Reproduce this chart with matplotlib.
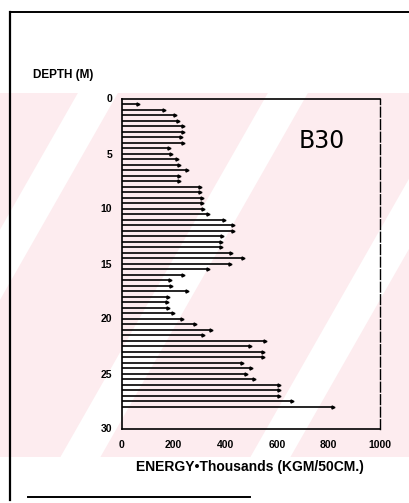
import matplotlib.pyplot as plt
from matplotlib.patches import Polygon
from matplotlib.lines import Line2D

# -------------------------------------------------
# Data: blow energy per 50 cm, borehole B30
# -------------------------------------------------
depth_m = [0.5, 1.0, 1.5, 2.0, 2.5, 3.0, 3.5, 4.0, 4.5, 5.0,
           5.5, 6.0, 6.5, 7.0, 7.5, 8.0, 8.5, 9.0, 9.5, 10.0,
           10.5, 11.0, 11.5, 12.0, 12.5, 13.0, 13.5, 14.0, 14.5, 15.0,
           15.5, 16.0, 16.5, 17.0, 17.5, 18.0, 18.5, 19.0, 19.5, 20.0,
           20.5, 21.0, 21.5, 22.0, 22.5, 23.0, 23.5, 24.0, 24.5, 25.0,
           25.5, 26.0, 26.5, 27.0, 27.5, 28.0]

energy_k = [62, 163, 205, 217, 236, 236, 229, 236, 182, 190,
            213, 221, 252, 221, 221, 302, 302, 310, 310, 314,
            333, 395, 430, 429, 386, 384, 382, 421, 468, 419,
            335, 238, 185, 188, 253, 180, 173, 180, 196, 231,
            283, 345, 313, 555, 496, 545, 545, 465, 499, 480,
            512, 610, 610, 608, 660, 818]

y_ticks = [0, 5, 10, 15, 20, 25, 30]
x_ticks = [0, 200, 400, 600, 800, 1000]

W, H = 410, 503
fig = plt.figure(figsize=(W / 100, H / 100), dpi=100)
fig.patch.set_facecolor("white")

# -------------------------------------------------
# Background: pale diagonal watermark + page border (pixel coords)
# -------------------------------------------------
bg = fig.add_axes([0, 0, 1, 1], zorder=-5)
bg.set_xlim(0, W)
bg.set_ylim(H, 0)
bg.axis("off")

pink = "#fdecef"
top, bot = 93, 457
slope = 0.57          # horizontal shift per pixel going up
period = 190
white_w = 40
clip = plt.Rectangle((0, top), W, bot - top, transform=bg.transData)
for k in range(-4, 4):
    a = 110 + white_w + k * period - slope * (bot - 370)
    b = a + period - white_w
    shift = slope * (bot - top)
    poly = Polygon([(a, bot), (b, bot), (b + shift, top), (a + shift, top)],
                   closed=True, facecolor=pink, edgecolor="none")
    bg.add_patch(poly)
    poly.set_clip_path(clip)

bg.add_line(Line2D([10, 10], [12, 500], color="black", lw=1.6))
bg.add_line(Line2D([10, W], [12, 12], color="black", lw=1.4))
bg.add_line(Line2D([28, 250], [497, 497], color="black", lw=1.4))

# -------------------------------------------------
# Main chart
# -------------------------------------------------
ax = fig.add_axes([122 / W, 1 - 428.5 / H, 258 / W, 330 / H])
ax.patch.set_alpha(0)

ax.hlines(depth_m, 0, energy_k, color="black", lw=1.2)
ax.plot(energy_k, depth_m, ">", color="black", ms=2.2)

ax.set_xlim(0, 1000)
ax.set_ylim(30, 0)
ax.set_xticks(x_ticks)
ax.set_yticks(y_ticks)
ax.tick_params(length=0, labelsize=7.5)
ax.tick_params(axis="y", pad=7)
ax.tick_params(axis="x", pad=8)
for lab in ax.get_xticklabels() + ax.get_yticklabels():
    lab.set_fontfamily("Liberation Sans")
    lab.set_fontweight("bold")

for side in ["left", "top", "bottom"]:
    ax.spines[side].set_linewidth(1.2)
ax.spines["right"].set_linewidth(1.0)
ax.spines["right"].set_linestyle((0, (7, 2)))

ax.text(775, 3.9, "B30", ha="center", va="center", fontsize=17,
        family="DejaVu Sans")

fig.text(33 / W, 1 - 75 / H, "DEPTH (M)", ha="left", va="center",
         fontsize=8.5, fontweight="bold", family="Liberation Sans")
fig.text(250 / W, 1 - 467 / H, "ENERGY\u2022Thousands (KGM/50CM.)",
         ha="center", va="center", fontsize=10, fontweight="bold",
         family="Liberation Sans")

fig.savefig("out.png", dpi=100)
